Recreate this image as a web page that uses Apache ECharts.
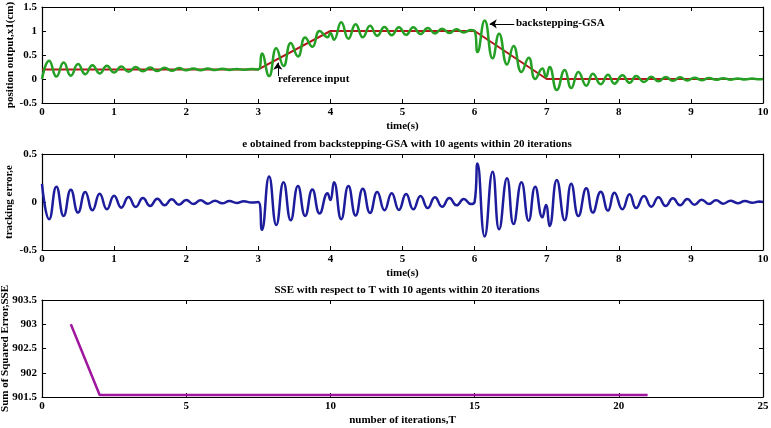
<!DOCTYPE html>
<html>
<head>
<meta charset="utf-8">
<script src="https://cdn.jsdelivr.net/npm/echarts@6/dist/echarts.min.js"></script>
<style>
  html,body{margin:0;padding:0;background:#fff;}
  #main{width:771px;height:428px;}
</style>
</head>
<body>
<div id="main"></div>
<script>
// reference input (red)
var refT = [0, 3, 4, 6, 7, 10];
var refY = [0.2, 0.2, 1, 1, 0, 0];

// backstepping-GSA output, read at the peaks/troughs (green)
var outT = [0, 0.1, 0.2, 0.3, 0.4, 0.5, 0.6, 0.7, 0.8, 0.9, 1.0, 1.1, 1.2, 1.3, 1.4, 1.5, 1.6, 1.7, 1.8, 1.9,
  2.0, 2.1, 2.2, 2.3, 2.4, 2.5, 2.6, 2.7, 2.8, 2.9, 3.0,
  3.05, 3.15, 3.25, 3.35, 3.45, 3.55, 3.65, 3.75, 3.85, 3.96, 4.0, 4.05, 4.15, 4.25, 4.35, 4.45, 4.55, 4.65, 4.75,
  4.85, 4.95, 5.05, 5.15, 5.25, 5.35, 5.45, 5.55, 5.65, 5.75, 5.85, 5.95, 6.0,
  6.04, 6.14, 6.25, 6.34, 6.45, 6.54, 6.65, 6.75, 6.84, 6.94, 6.99, 7.04, 7.14, 7.25, 7.34, 7.44, 7.55, 7.64, 7.75,
  7.85, 7.94, 8.05, 8.15, 8.24, 8.35, 8.45, 8.55, 8.65, 8.75, 8.85, 8.95, 9.05, 9.15, 9.25, 9.35, 9.45, 9.55,
  9.65, 9.75, 9.85, 9.95, 10];
var outY = [0, 0.38, 0.05, 0.345, 0.07, 0.31, 0.1, 0.285, 0.115, 0.275, 0.135, 0.26, 0.15, 0.25, 0.16, 0.24, 0.165, 0.235, 0.172, 0.228,
  0.18, 0.22, 0.183, 0.217, 0.186, 0.214, 0.19, 0.21, 0.192, 0.206, 0.2,
  0.53, 0.06, 0.64, 0.27, 0.75, 0.47, 0.865, 0.67, 1.0, 0.87, 0.96, 0.82, 1.18, 0.84, 1.14, 0.87, 1.11, 0.9, 1.085,
  0.91, 1.08, 0.92, 1.076, 0.935, 1.063, 0.95, 1.049, 0.958, 1.035, 0.97, 1.02, 1.0,
  0.56, 1.22, 0.43, 0.945, 0.3, 0.69, 0.145, 0.445, 0.0, 0.22, 0.04, 0.25, -0.23, 0.19, -0.19, 0.146, -0.142, 0.11, -0.108,
  0.09, -0.097, 0.076, -0.08, 0.063, -0.063, 0.049, -0.049, 0.042, -0.038, 0.035, -0.031, 0.028, -0.024, 0.021, -0.017, 0.017, -0.014,
  0.012, -0.01, 0.008, -0.006, 0];

// tracking error e (blue)
var errT = [0, 0.1, 0.2, 0.3, 0.4, 0.5, 0.6, 0.7, 0.8, 0.9, 1.0, 1.1, 1.2, 1.3, 1.4, 1.5, 1.6, 1.7, 1.8, 1.9,
  2.0, 2.1, 2.2, 2.3, 2.4, 2.5, 2.6, 2.7, 2.8, 2.9, 3.0,
  3.05, 3.15, 3.25, 3.35, 3.45, 3.55, 3.65, 3.75, 3.85, 3.96, 4.0, 4.05, 4.15, 4.25, 4.35, 4.45, 4.55, 4.65, 4.75,
  4.85, 4.95, 5.05, 5.15, 5.25, 5.35, 5.45, 5.55, 5.65, 5.75, 5.85, 5.95, 6.0,
  6.04, 6.14, 6.25, 6.34, 6.45, 6.54, 6.65, 6.75, 6.84, 6.94, 6.99, 7.04, 7.14, 7.25, 7.34, 7.44, 7.55, 7.64, 7.75,
  7.85, 7.94, 8.05, 8.15, 8.24, 8.35, 8.45, 8.55, 8.65, 8.75, 8.85, 8.95, 9.05, 9.15, 9.25, 9.35, 9.45, 9.55,
  9.65, 9.75, 9.85, 9.95, 10];
var errV = [0.19, -0.18, 0.16, -0.145, 0.128, -0.11, 0.103, -0.086, 0.086, -0.076, 0.066, -0.059, 0.052, -0.052, 0.041, -0.041, 0.034, -0.034, 0.028, -0.028,
  0.021, -0.021, 0.017, -0.017, 0.014, -0.014, 0.01, -0.01, 0.008, -0.006, 0,
  -0.29, 0.265, -0.24, 0.207, -0.19, 0.166, -0.145, 0.13, -0.12, 0.09, 0.02, 0.207, -0.18, 0.166, -0.14, 0.138, -0.114, 0.103, -0.086,
  0.09, -0.083, 0.083, -0.076, 0.063, -0.063, 0.049, -0.049, 0.042, -0.035, 0.031, -0.021, 0,
  0.40, -0.36, 0.316, -0.285, 0.247, -0.23, 0.205, -0.195, 0.16, -0.16, -0.03, -0.25, 0.23, -0.19, 0.19, -0.146, 0.142, -0.11, 0.108,
  -0.09, 0.097, -0.076, 0.08, -0.063, 0.063, -0.049, 0.049, -0.042, 0.038, -0.035, 0.031, -0.028, 0.024, -0.021, 0.017, -0.017, 0.014,
  -0.012, 0.01, -0.008, 0.006, 0];

// SSE per iteration (purple)
var iterT = [1, 2, 3, 4, 5, 6, 7, 8, 9, 10, 11, 12, 13, 14, 15, 16, 17, 18, 19, 20, 21];
var sseV = [903, 901.54, 901.54, 901.54, 901.54, 901.54, 901.54, 901.54, 901.54, 901.54, 901.54,
  901.54, 901.54, 901.54, 901.54, 901.54, 901.54, 901.54, 901.54, 901.54, 901.54];

var titleTwo = 'e obtained from backstepping-GSA with 10 agents within 20 iterations';
var titleThree = 'SSE with respect to T with 10 agents within 20 iterations';

function pairs(xs, ys) {
  return xs.map(function (x, i) { return [x, ys[i]]; });
}

var font = 'Liberation Serif';
var txt = {fontFamily: font, fontWeight: 'bold', fontSize: 11, color: '#000'};

function bottomX(gi, max, interval, name) {
  return {
    type: 'value', gridIndex: gi, min: 0, max: max, interval: interval, position: 'bottom',
    name: name, nameLocation: 'middle', nameGap: 18, nameMoveOverlap: false, nameTextStyle: txt,
    axisLine: {onZero: false, lineStyle: {color: '#000', width: 1.2}},
    axisTick: {inside: true, length: 4, lineStyle: {color: '#000'}},
    axisLabel: Object.assign({margin: 4}, txt),
    splitLine: {show: false}
  };
}
function topX(gi, max, interval) {
  return {
    type: 'value', gridIndex: gi, min: 0, max: max, interval: interval, position: 'top',
    axisLine: {onZero: false, lineStyle: {color: '#000', width: 1.2}},
    axisTick: {inside: true, length: 4, lineStyle: {color: '#000'}},
    axisLabel: {show: false}, splitLine: {show: false}
  };
}
function leftY(gi, min, max, name, gap) {
  return {
    type: 'value', gridIndex: gi, min: min, max: max, interval: 0.5, position: 'left',
    name: name, nameLocation: 'middle', nameGap: gap, nameMoveOverlap: false, nameTextStyle: txt,
    axisLine: {show: true, onZero: false, lineStyle: {color: '#000', width: 1.2}},
    axisTick: {show: true, inside: true, length: 4, lineStyle: {color: '#000'}},
    axisLabel: Object.assign({margin: 5}, txt),
    splitLine: {show: false}
  };
}
function rightY(gi, min, max) {
  return {
    type: 'value', gridIndex: gi, min: min, max: max, interval: 0.5, position: 'right',
    axisLine: {show: true, onZero: false, lineStyle: {color: '#000', width: 1.2}},
    axisTick: {show: true, inside: true, length: 4, lineStyle: {color: '#000'}},
    axisLabel: {show: false}, splitLine: {show: false}
  };
}

var arrowLine = {
  silent: true, animation: false, symbol: ['none', 'arrow'], symbolSize: 7,
  lineStyle: {color: '#000', width: 1, type: 'solid'}, label: {show: false}
};

var option = {
  backgroundColor: '#fff',
  animation: false,
  title: [
    {text: titleTwo, left: 402, top: 134, textAlign: 'center', textStyle: txt},
    {text: titleThree, left: 402, top: 280, textAlign: 'center', textStyle: txt}
  ],
  grid: [
    {left: 42, right: 8, top: 7, height: 96, containLabel: false, outerBoundsMode: 'none'},
    {left: 42, right: 8, top: 154, height: 96, containLabel: false, outerBoundsMode: 'none'},
    {left: 42, right: 8, top: 300, height: 97, containLabel: false, outerBoundsMode: 'none'}
  ],
  xAxis: [
    bottomX(0, 10, 1, 'time(s)'), topX(0, 10, 1),
    bottomX(1, 10, 1, 'time(s)'), topX(1, 10, 1),
    bottomX(2, 25, 5, 'number of iterations,T'), topX(2, 25, 5)
  ],
  yAxis: [
    leftY(0, -0.5, 1.5, 'position output,x1(cm)', 26), rightY(0, -0.5, 1.5),
    leftY(1, -0.5, 0.5, 'tracking error,e', 27), rightY(1, -0.5, 0.5),
    leftY(2, 901.5, 903.5, 'Sum of Squared Error,SSE', 31), rightY(2, 901.5, 903.5)
  ],
  graphic: [
    {type: 'text', left: 278, top: 74, style: {text: 'reference input', font: 'bold 11px "Liberation Serif"', fill: '#000'}},
    {type: 'text', left: 516, top: 18, style: {text: 'backstepping-GSA', font: 'bold 11px "Liberation Serif"', fill: '#000'}}
  ],
  series: [
    {
      name: 'reference input', type: 'line', xAxisIndex: 0, yAxisIndex: 0,
      data: pairs(refT, refY), showSymbol: false,
      lineStyle: {color: '#b3161a', width: 2}
    },
    {
      name: 'backstepping-GSA', type: 'line', xAxisIndex: 0, yAxisIndex: 0,
      data: pairs(outT, outY), showSymbol: false, smooth: 0.5,
      lineStyle: {color: '#24a024', width: 2.5},
      markLine: Object.assign({
        data: [
          [{coord: [3.27, 0.06]}, {coord: [3.27, 0.34]}],
          [{coord: [6.55, 1.15]}, {coord: [6.21, 1.15]}]
        ]
      }, arrowLine)
    },
    {
      name: 'e', type: 'line', xAxisIndex: 2, yAxisIndex: 2,
      data: pairs(errT, errV), showSymbol: false, smooth: 0.5,
      lineStyle: {color: '#1c1c9c', width: 2.5}
    },
    {
      name: 'SSE', type: 'line', xAxisIndex: 4, yAxisIndex: 4,
      data: pairs(iterT, sseV), showSymbol: false,
      lineStyle: {color: '#a0169e', width: 2.5}
    }
  ]
};

var chart = echarts.init(document.getElementById('main'));
chart.setOption(option);
</script>
</body>
</html>
